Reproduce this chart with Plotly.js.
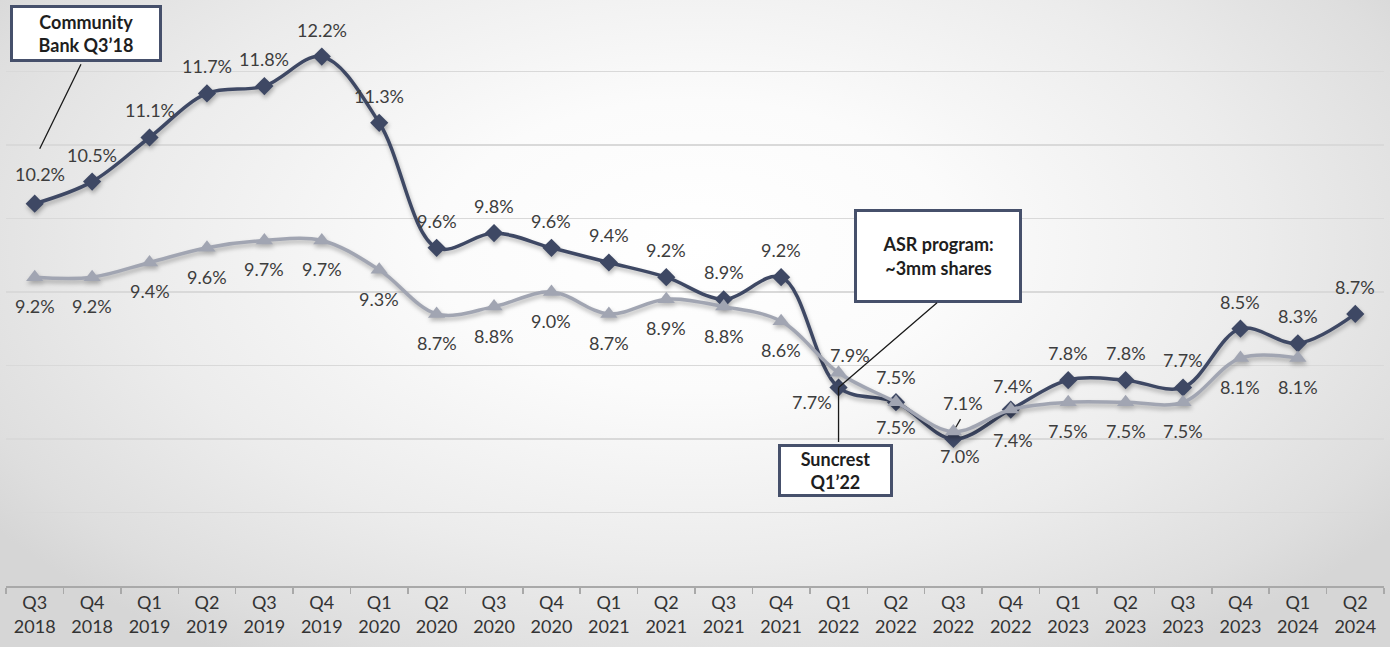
<!DOCTYPE html>
<html>
<head>
<meta charset="utf-8">
<script src="https://cdn.plot.ly/plotly-3.0.1.min.js"></script>
<style>
  html, body { margin: 0; padding: 0; overflow: hidden; }
  body {
    width: 1390px; height: 647px;
    background: radial-gradient(ellipse 62% 75% at 50% 38%, #ffffff 0%, #fbfbfb 30%, #ececec 65%, #dedede 90%, #d6d6d6 100%);
  }
  #chart { width: 1390px; height: 647px; }
  .scatterlayer g.trace { filter: drop-shadow(1px 3px 2px rgba(0,0,0,0.28)); }
</style>
</head>
<body>
<div id="chart"></div>
<script>
// Quarter categories (x axis)
const quarters = [
  'Q3 2018', 'Q4 2018', 'Q1 2019', 'Q2 2019', 'Q3 2019', 'Q4 2019',
  'Q1 2020', 'Q2 2020', 'Q3 2020', 'Q4 2020', 'Q1 2021', 'Q2 2021',
  'Q3 2021', 'Q4 2021', 'Q1 2022', 'Q2 2022', 'Q3 2022', 'Q4 2022',
  'Q1 2023', 'Q2 2023', 'Q3 2023', 'Q4 2023', 'Q1 2024', 'Q2 2024'
];
const tickText = quarters.map(q => q.replace(' ', '<br>'));

// Dark series (%)
const darkSeries = [
  10.2, 10.5, 11.1, 11.7, 11.8, 12.2,
  11.3, 9.6, 9.8, 9.6, 9.4, 9.2,
  8.9, 9.2, 7.7, 7.5, 7.0, 7.4,
  7.8, 7.8, 7.7, 8.5, 8.3, 8.7
];

// Light series (%), no value for the last quarter
const lightSeries = [
  9.2, 9.2, 9.4, 9.6, 9.7, 9.7,
  9.3, 8.7, 8.8, 9.0, 8.7, 8.9,
  8.8, 8.6, 7.9, 7.5, 7.1, 7.4,
  7.5, 7.5, 7.5, 8.1, 8.1, null
];

// Label placement (pixel offsets from the point): defaults plus exceptions
const darkDefault = [0, 27];
const lightDefault = [0, -29];
const darkOffsets = { 0: [5, 30], 14: [-27, -15], 15: [0, -25], 16: [7, -17], 17: [2, 24] };
const lightOffsets = { 14: [11, 18], 15: [0, 25], 16: [10, 29], 17: [2, -30] };

const DARK = '#3e4864';
const LIGHT = '#a1a5b2';
const LABEL_FONT = { family: 'Lato, sans-serif', size: 18, color: '#3d3d3d' };
const BOX_FONT = { family: 'Lato, sans-serif', size: 18, color: '#1e1e1e' };

const traces = [
  {
    x: quarters, y: darkSeries, type: 'scatter', mode: 'lines+markers',
    line: { color: DARK, width: 3.5, shape: 'spline', smoothing: 1 },
    marker: { symbol: 'diamond', size: 14, color: DARK },
    hoverinfo: 'skip', showlegend: false
  },
  {
    x: quarters, y: lightSeries, type: 'scatter', mode: 'lines+markers',
    line: { color: LIGHT, width: 3.5, shape: 'spline', smoothing: 1 },
    marker: { symbol: 'triangle-up', size: 15, color: LIGHT },
    hoverinfo: 'skip', showlegend: false
  }
];

const annotations = [];
function addLabels(series, offsets, def) {
  series.forEach((v, i) => {
    if (v === null) return;
    const off = offsets[i] || def;
    annotations.push({
      x: quarters[i], y: v, xref: 'x', yref: 'y',
      text: v.toFixed(1) + '%', showarrow: false,
      xshift: off[0], yshift: off[1], font: LABEL_FONT
    });
  });
}
addLabels(darkSeries, darkOffsets, darkDefault);
addLabels(lightSeries, lightOffsets, lightDefault);

// small pointer from the 7.1% label to its marker
annotations.push({
  x: 'Q3 2022', y: 7.1, xref: 'x', yref: 'y', text: '',
  showarrow: true, arrowhead: 0, arrowwidth: 1.3, arrowcolor: '#222',
  ax: 8, ay: -14, standoff: 5
});

// callout boxes
function box(text, x, y, w, h) {
  return {
    xref: 'paper', yref: 'paper', x: x, y: y, xanchor: 'center', yanchor: 'middle',
    text: '<b>' + text + '</b>', showarrow: false, font: BOX_FONT,
    bgcolor: '#ffffff', bordercolor: '#46506b', borderwidth: 3, borderpad: 0,
    width: w, height: h, align: 'center'
  };
}
annotations.push(box('Community<br>Bank Q3\u201918', 0.058, 0.943, 146, 51));
annotations.push(box('ASR program:<br>~3mm shares', 0.676, 0.563, 162, 88));
annotations.push(box('Suncrest<br>Q1\u201922', 0.6016, 0.197, 109, 47));

// connector lines from the callouts
annotations.push({
  x: 'Q3 2018', y: 10.2, xref: 'x', yref: 'y', text: '',
  showarrow: true, arrowhead: 0, arrowwidth: 1.3, arrowcolor: '#1a1a1a',
  xshift: 5, yshift: 55, ax: 42, ay: -86, standoff: 0
});
annotations.push({
  x: 'Q1 2022', y: 7.7, xref: 'x', yref: 'y', text: '',
  showarrow: true, arrowhead: 0, arrowwidth: 1.3, arrowcolor: '#1a1a1a',
  ax: 100, ay: -86, standoff: 0
});
annotations.push({
  x: 'Q1 2022', y: 7.7, xref: 'x', yref: 'y', text: '',
  showarrow: true, arrowhead: 0, arrowwidth: 1.3, arrowcolor: '#1a1a1a',
  ax: 0, ay: 56, standoff: 0
});

const layout = {
  width: 1390, height: 647,
  margin: { l: 6, r: 6, t: 0, b: 61 },
  paper_bgcolor: 'rgba(0,0,0,0)',
  plot_bgcolor: 'rgba(0,0,0,0)',
  xaxis: {
    type: 'category', categoryorder: 'array', categoryarray: quarters,
    tickmode: 'array', tickvals: quarters, ticktext: tickText,
    range: [-0.5, quarters.length - 0.5],
    showgrid: false, zeroline: false,
    showline: true, linecolor: '#a9a9a9', linewidth: 1.5,
    ticks: 'outside', tickson: 'boundaries', ticklen: 6, tickcolor: '#a9a9a9', tickwidth: 1.5,
    tickfont: { family: 'Lato, sans-serif', size: 18, color: '#333333' },
    fixedrange: true
  },
  yaxis: {
    range: [5, 12.97], dtick: 1, tick0: 5,
    showgrid: true, gridcolor: '#d9d9d9', gridwidth: 1.3,
    showticklabels: false, zeroline: false, showline: false, ticks: '',
    fixedrange: true
  },
  annotations: annotations
};

Plotly.newPlot('chart', traces, layout, { displayModeBar: false, staticPlot: true });
</script>
</body>
</html>
